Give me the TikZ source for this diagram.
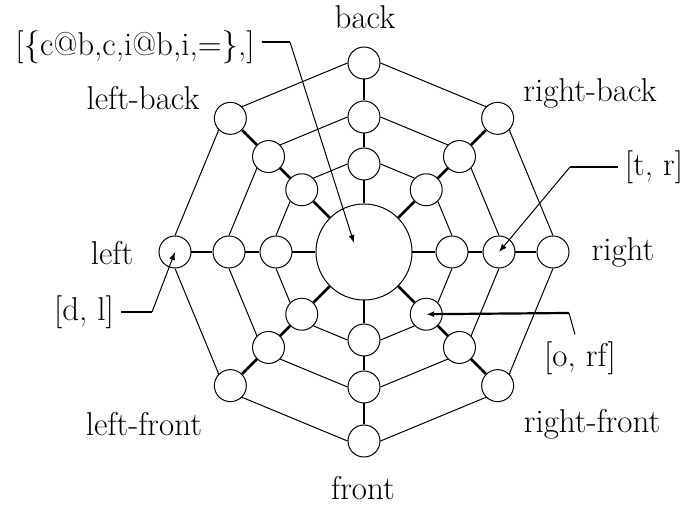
\documentclass[tikz,border=0pt]{standalone}
\usepackage{fontspec}
\usetikzlibrary{arrows.meta}

\tikzset{
  cell/.style={circle, draw, line width=0.5pt, minimum size=16pt, inner sep=0pt},
  hub/.style={circle, draw, line width=0.5pt, minimum size=48pt, inner sep=0pt},
  ring/.style={line width=0.5pt},
  spoke/.style={line width=1.4pt},
  lead/.style={line width=1.1pt},
  pointer/.style={-{Latex[length=4pt, width=3pt]}},
  lbl/.style={font=\fontsize{16.5}{20}\selectfont}
}

\begin{document}
\begin{tikzpicture}[x=0.5pt, y=0.5pt]
  \useasboundingbox (-364,-255) rectangle (322,252);

  % hub and the three rings of cells
  \node[hub] (hub) at (0,0) {};
  \foreach \k in {0,...,7} {
    \node[cell] (i\k) at (\k*45:88) {};
    \node[cell] (m\k) at (\k*45:135) {};
    \node[cell] (o\k) at (\k*45:189) {};
  }

  % spokes
  \foreach \k in {0,...,7} {
    \draw[spoke] (hub) -- (i\k);
    \draw[spoke] (i\k) -- (m\k);
    \draw[spoke] (m\k) -- (o\k);
  }

  % ring edges
  \foreach \k in {0,...,7} {
    \pgfmathtruncatemacro{\n}{mod(\k+1,8)}
    \pgfmathtruncatemacro{\a}{\k*45+90}
    \pgfmathtruncatemacro{\b}{mod(\k*45+315,360)}
    \foreach \lay in {i,m,o}
      \draw[ring] (\lay\k.\a) -- (\lay\n.\b);
  }

  % direction labels
  \node[lbl] (nback) at (1,235) {back};
  \node[lbl] (nleftback) at (-221,154) {left-back};
  \node[lbl] (nrightback) at (226,159) {right-back};
  \node[lbl] (nleft) at (-252,-1) {left};
  \node[lbl] (nright) at (259,0) {right};
  \node[lbl] (nleftfront) at (-220,-172) {left-front};
  \node[lbl] (nrightfront) at (228,-172) {right-front};
  \node[lbl] (nfront) at (-1,-236) {front};

  % annotations
  \node[lbl] (cib) at (-229,205) {[\{c@b,c,i@b,i,=\},]};
  \coordinate (cibbend) at (-74,210);
  \coordinate (hubmark) at (-10,9);
  \draw[lead] (cib.east |- cibbend) -- (cibbend);
  \draw[ring, pointer] (cibbend) -- (hubmark);

  \node[lbl] (tr) at (290,85) {[t, r]};
  \coordinate (trbend) at (206,85);
  \draw[lead] (tr.west) -- (trbend);
  \draw[ring, pointer] (trbend) -- (m0.center);

  \node[lbl] (dl) at (-280,-60) {[d, l]};
  \coordinate (dlbend) at (-212,-60);
  \draw[lead] (dl.east) -- (dlbend);
  \draw[ring, pointer] (dlbend) -- (o4.center);

  \node[lbl] (orf) at (216,-106) {[o, rf]};
  \coordinate (orfbend) at (205,-61);
  \draw[ring] ([xshift=-2.5pt]orf.north) -- (orfbend);
  \draw[lead, pointer] (orfbend) -- (i7.center);

\end{tikzpicture}
\end{document}
